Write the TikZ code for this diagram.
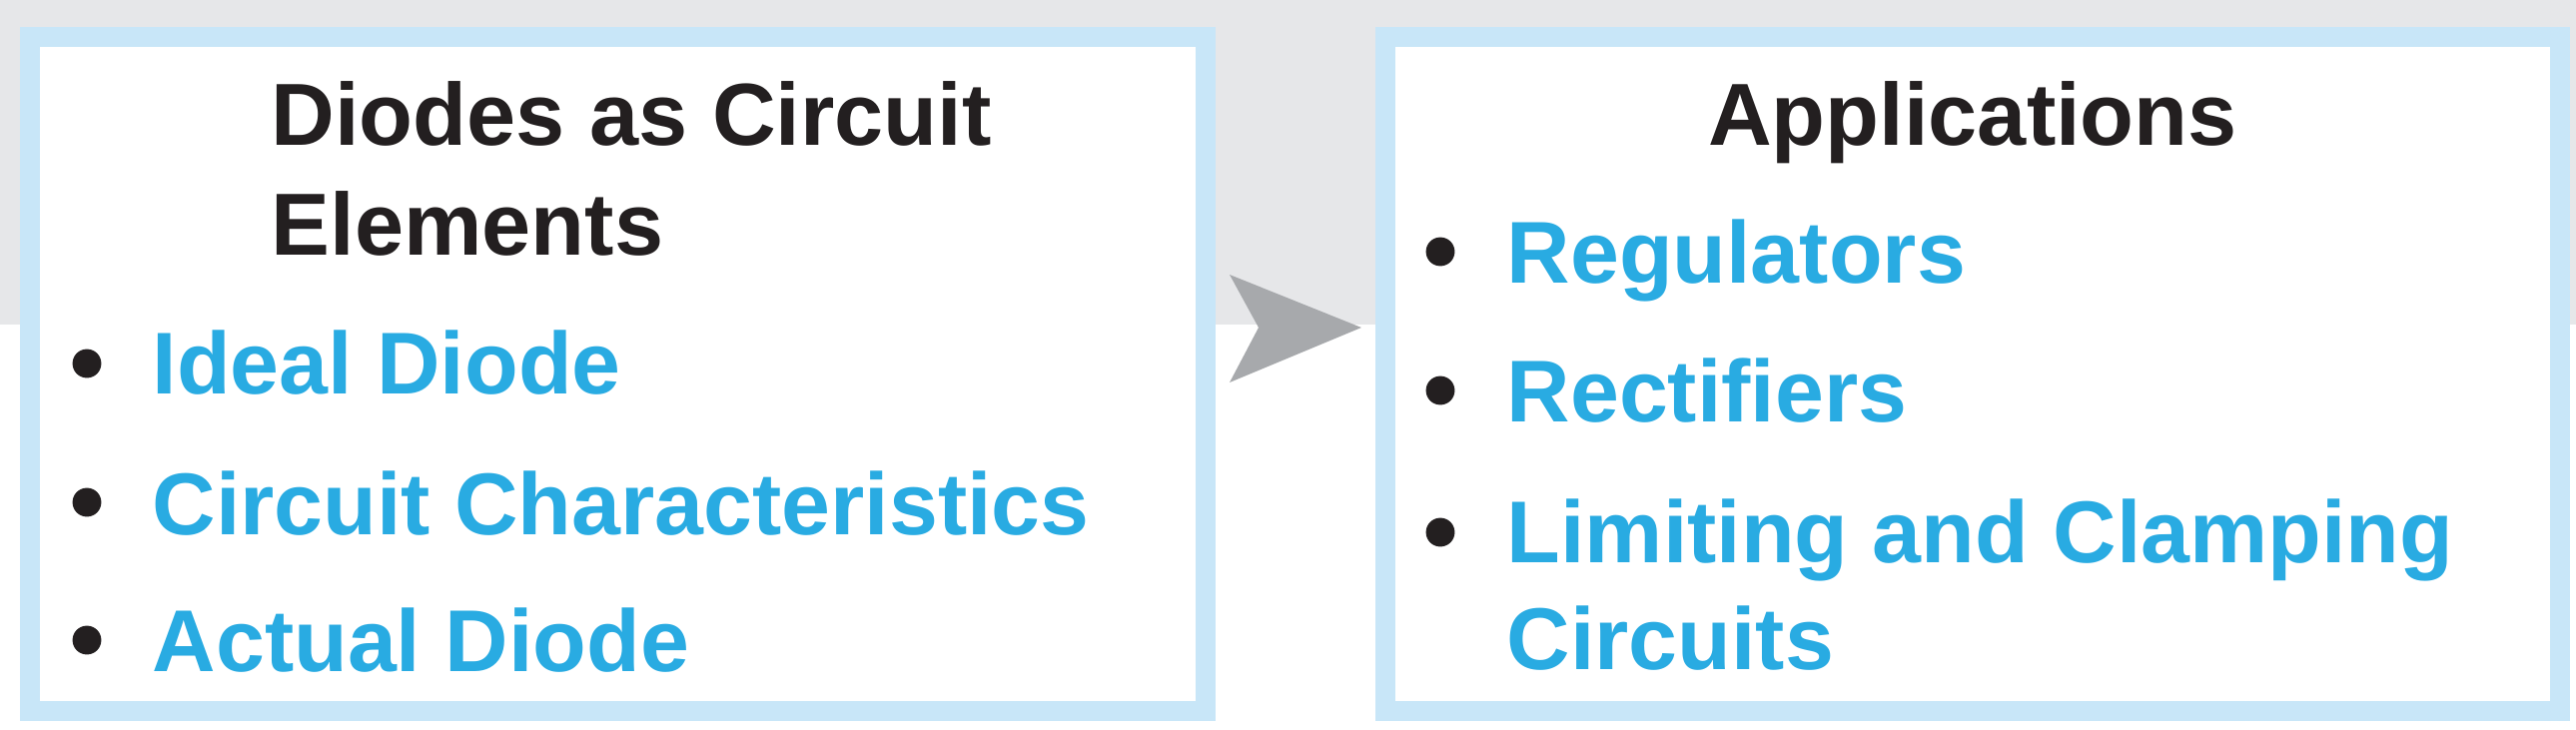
\documentclass[tikz,border=0pt]{standalone}
\usepackage{fontspec}
\setmainfont{Liberation Sans}
\definecolor{bggray}{HTML}{E6E7E9}
\definecolor{frameblue}{HTML}{C8E6F8}
\definecolor{itemblue}{HTML}{29ABE2}
\definecolor{arrowgray}{HTML}{A7A9AC}
\definecolor{titleblack}{HTML}{231F20}
\tikzset{
  panel/.style={draw=frameblue, line width=5.69pt, fill=white},
  title/.style={anchor=base west, inner sep=0pt, text=titleblack, font=\fontsize{25.1}{31}\selectfont\bfseries},
  item/.style={anchor=base west, inner sep=0pt, text=itemblue, font=\fontsize{25.0}{29.5}\selectfont\bfseries},
  dot/.style={circle, fill=titleblack, inner sep=0pt, minimum size=8.2pt},
  chevron/.style={fill=arrowgray, draw=none}
}
\begin{document}
\begin{tikzpicture}[x=0.01cm, y=-0.01cm]
\useasboundingbox (0,0) rectangle (2579,730);
\fill[bggray] (0,0) rectangle (2579,325);
% panels
\draw[panel] (30,37) rectangle (1207,712);
\draw[panel] (1387,37) rectangle (2563,712);
% arrow
\fill[chevron] (1231,275) -- (1363,328) -- (1231,383) -- (1260,328) -- cycle;
% left panel text
\node[title] (t1a) at (271,145) {Diodes as Circuit};
\node[title] (t1b) at (271,255) {Elements};
\node[dot] (b1) at (87,364) {};
\node[item] (i1) at (152,394) {Ideal Diode};
\node[dot] (b2) at (87,503) {};
\node[item] (i2) at (152,535) {Circuit Characteristics};
\node[dot] (b3) at (87,641) {};
\node[item] (i3) at (152,672) {Actual Diode};
% right panel text
\node[title, anchor=base] (t2) at (1975,145) {Applications};
\node[dot] (b4) at (1442,252) {};
\node[item] (i4) at (1508,283) {Regulators};
\node[dot] (b5) at (1442,391) {};
\node[item] (i5) at (1508,422) {Rectifiers};
\node[dot] (b6) at (1442,533) {};
\node[item] (i6a) at (1508,563) {Limiting and Clamping};
\node[item] (i6b) at (1508,670) {Circuits};
\end{tikzpicture}
\end{document}
